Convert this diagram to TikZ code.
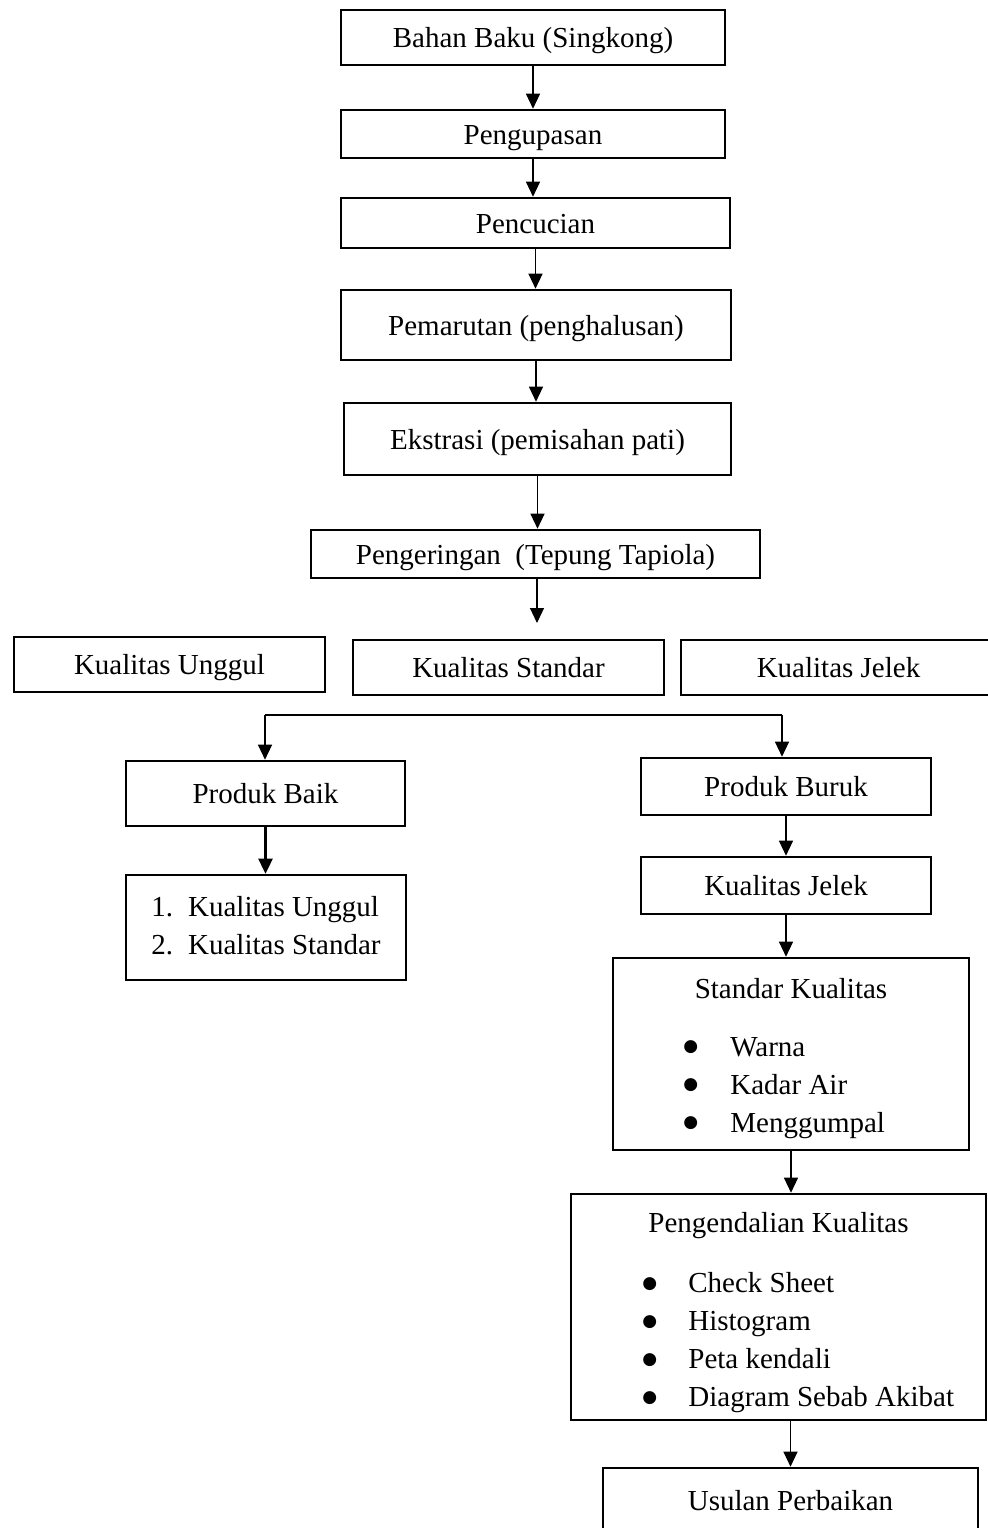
\documentclass[tikz,border=0pt]{standalone}
\usepackage{fontspec}
\setmainfont{Liberation Serif}
\newfontfamily\simbol{DejaVu Sans}
\newcommand{\titik}{\raisebox{2.2pt}{\simbol\fontsize{8.5}{19}\selectfont ●}}
\usetikzlibrary{arrows.meta}

\begin{document}
\begin{tikzpicture}[x=0.5pt,y=-0.5pt,
		every node/.style={font=\fontsize{14.5}{19}\selectfont},
		garis/.style={draw,line width=1.3pt,inner sep=0pt,align=center},
		kotak/.style={garis,text height=10pt,text depth=0pt},
		butir/.style={inner sep=0pt,align=left,anchor=west},
		panah/.style={-{Triangle[length=7.5pt,width=7pt]},line width=0.6pt}]
		\useasboundingbox (0,0) rectangle (988,1528);
		% alur proses
		\node[kotak,minimum width=192pt,minimum height=27.5pt] (bahan) at (533,37.5) {Bahan Baku (Singkong)};
		\node[kotak,minimum width=192pt,minimum height=24pt] (kupas) at (533,134) {Pengupasan};
		\node[kotak,minimum width=194.5pt,minimum height=25pt] (cuci) at (535.5,223) {Pencucian};
		\node[kotak,minimum width=195pt,minimum height=35pt] (parut) at (536,325) {Pemarutan (penghalusan)};
		\node[kotak,minimum width=193.5pt,minimum height=36pt] (ekstrak) at (537.5,439) {Ekstrasi (pemisahan pati)};
		\node[kotak,minimum width=224.5pt,minimum height=24pt] (kering) at (535.5,554) {Pengeringan~ (Tepung Tapiola)};
		\coordinate (ujung) at (537,623);
		% kelas mutu
		\node[kotak,minimum width=155.5pt,minimum height=27.5pt] (unggul) at (169.5,664.5) {Kualitas Unggul};
		\node[kotak,minimum width=155.5pt,minimum height=27.5pt] (standar) at (508.5,667.5) {Kualitas Standar};
		\node[kotak,minimum width=157.5pt,minimum height=27.5pt] (jelek) at (838.5,667.5) {Kualitas Jelek};
		\coordinate (cabangkiri) at (265,715);
		\coordinate (cabangkanan) at (782,715);
		% cabang kiri
		\node[kotak,minimum width=139.5pt,minimum height=32.5pt] (baik) at (265.5,793.5) {Produk Baik};
		\node[garis,minimum width=140pt,minimum height=52.5pt] (daftar) at (266,927.5)
			{\begin{tabular}{@{}l@{\hspace{7.5pt}}l@{}}1. & Kualitas Unggul\\2. & Kualitas Standar\end{tabular}};
		% cabang kanan
		\node[kotak,minimum width=145pt,minimum height=28.5pt] (buruk) at (786,786.5) {Produk Buruk};
		\node[kotak,minimum width=145pt,minimum height=28.5pt] (jelek2) at (786,885.5) {Kualitas Jelek};
		\node[garis,minimum width=178pt,minimum height=96pt] (stdkual) at (791,1054) {};
		\node (judulstd) at (791,989) {Standar Kualitas};
		\node[butir] (butirstd) at (683,1088)
			{\makebox[23.5pt][l]{\titik}Warna\\\makebox[23.5pt][l]{\titik}Kadar Air\\\makebox[23.5pt][l]{\titik}Menggumpal};
		\node[garis,minimum width=207.5pt,minimum height=113pt] (kendali) at (778.5,1307) {};
		\node (judulkendali) at (778.5,1226) {Pengendalian Kualitas};
		\node[butir] (butirkendali) at (642,1343)
			{\makebox[23pt][l]{\titik}Check Sheet\\\makebox[23pt][l]{\titik}Histogram\\\makebox[23pt][l]{\titik}Peta kendali\\\makebox[23pt][l]{\titik}Diagram Sebab Akibat};
		\node[kotak,minimum width=187.5pt,minimum height=32pt] (usulan) at (790.5,1500) {Usulan Perbaikan};
		% panah
		\draw[panah] (bahan) -- (kupas);
		\draw[panah] (kupas.south) -- (kupas.south|-cuci.north);
		\draw[panah] (cuci.south) -- (cuci.south|-parut.north);
		\draw[panah] (parut.south) -- (parut.south|-ekstrak.north);
		\draw[panah] (ekstrak.south) -- (ekstrak.south|-kering.north);
		\draw[panah] (kering.south-|ujung) -- (ujung);
		\draw[line width=0.6pt] (cabangkiri) -- (cabangkanan);
		\draw[panah] (cabangkiri) -- (cabangkiri|-baik.north);
		\draw[panah] (cabangkanan) -- (cabangkanan|-buruk.north);
		\draw[panah,line width=1.3pt] (baik.south) -- (baik.south|-daftar.north);
		\draw[panah] (buruk) -- (jelek2);
		\draw[panah] (jelek2.south) -- (jelek2.south|-stdkual.north);
		\draw[panah] (stdkual.south) -- (stdkual.south|-kendali.north);
		\draw[panah] (kendali.south-|usulan) -- (usulan);
	\end{tikzpicture}
\end{document}
